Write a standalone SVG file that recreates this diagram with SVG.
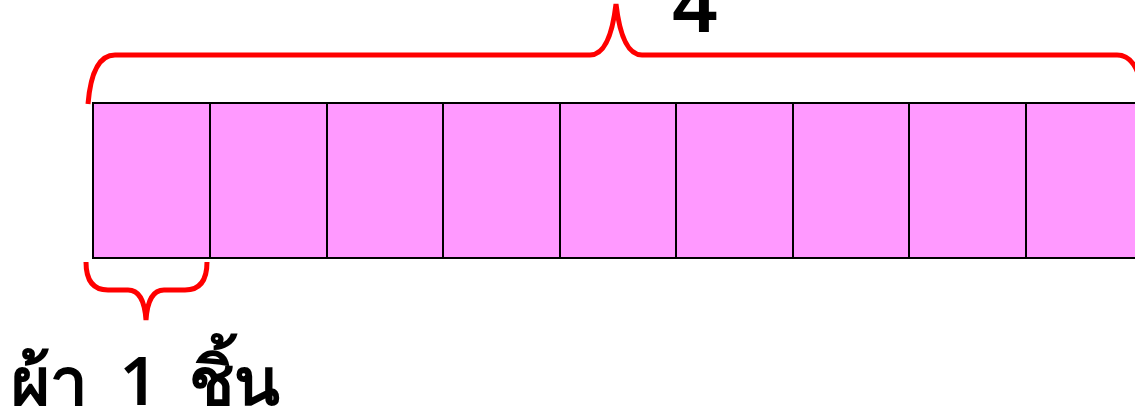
<svg xmlns="http://www.w3.org/2000/svg" width="1135" height="415" viewBox="0 0 1135 415">
<style>
.cell{fill:#FF99FF;stroke:#000;stroke-width:2}
.brace{fill:none;stroke:#FF0000;stroke-width:5}
.lbl{font-family:"Noto Sans","DejaVu Sans",sans-serif;fill:#000;font-weight:600}
</style>
<rect width="1135" height="415" fill="#fff"/>
<g id="cells">
<rect class="cell" x="93" y="103" width="117" height="155"/>
<rect class="cell" x="210" y="103" width="117" height="155"/>
<rect class="cell" x="327" y="103" width="116" height="155"/>
<rect class="cell" x="443" y="103" width="117" height="155"/>
<rect class="cell" x="560" y="103" width="116" height="155"/>
<rect class="cell" x="676" y="103" width="117" height="155"/>
<rect class="cell" x="793" y="103" width="116" height="155"/>
<rect class="cell" x="909" y="103" width="117" height="155"/>
<rect class="cell" x="1026" y="103" width="117" height="155"/>
</g>
<g id="connectors">
<path id="top-brace" class="brace" d="M88,104 Q92,55 115,55 L590,55 Q610,55 616,4 Q622,55 642,55 L1117,55 Q1140,55 1144,104"/>
<path id="bottom-brace" class="brace" d="M86,262 Q86,290 108,290 L128,290 Q144,290 146,320 Q148,290 164,290 L185,290 Q207,290 207,262"/>
</g>
<g id="label-total"><text class="lbl" x="672" y="32" font-size="80">4</text></g>
<g id="label-piece"><text class="lbl" x="11" y="405" font-size="67" word-spacing="14">ผ้า 1 ชิ้น</text></g>
</svg>
